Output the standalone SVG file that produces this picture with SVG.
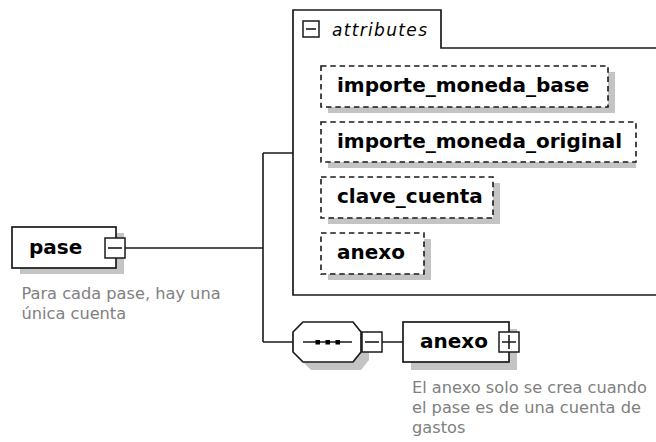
<svg xmlns="http://www.w3.org/2000/svg" width="656" height="442" viewBox="0 0 656 442">
<style>
.box{fill:#fff;stroke:#1a1a1a;stroke-width:1.7}
.dash{fill:#fff;stroke:#1a1a1a;stroke-width:1.6;stroke-dasharray:5.5 3.8}
.sh{fill:#c4c4c4;stroke:none}
.ln{fill:none;stroke:#1a1a1a;stroke-width:1.6}
.btn{fill:#fff;stroke:#1a1a1a;stroke-width:1.5}
.nm{font-family:"DejaVu Sans",Verdana,sans-serif;font-weight:bold;font-size:20px;fill:#000}
.ds{font-family:"DejaVu Sans",Verdana,sans-serif;font-size:16.2px;fill:#808080}
.it{font-family:"DejaVu Sans",Verdana,sans-serif;font-style:italic;font-size:17px;fill:#000}
</style>
<rect width="656" height="442" fill="#fff"/>
<g id="connectors">
<path class="ln" d="M125,248 H263 M263,153 V342 M263,153 H293 M263,342 H293 M382,342 H403"/>
</g>
<g id="attributes">
<path d="M656,48 H441 V10 H293 V295 H656" fill="#fff" stroke="#1a1a1a" stroke-width="1.7"/>
<rect class="btn" x="303" y="21" width="16" height="16"/>
<path class="ln" d="M306,29 H316"/>
<text class="it" x="332" y="36" textLength="95" lengthAdjust="spacing">attributes</text>
</g>
<g id="attr-importe_moneda_base">
<rect class="sh" x="328" y="72" width="287" height="41"/>
<rect class="dash" x="321" y="66" width="287" height="41"/>
<text class="nm" x="337" y="92">importe_moneda_base</text>
</g>
<g id="attr-importe_moneda_original">
<rect class="sh" x="328" y="128" width="308" height="40"/>
<rect class="dash" x="321" y="122" width="315" height="40"/>
<text class="nm" x="337" y="148">importe_moneda_original</text>
</g>
<g id="attr-clave_cuenta">
<rect class="sh" x="328" y="183" width="172" height="41"/>
<rect class="dash" x="321" y="177" width="172" height="41"/>
<text class="nm" x="337" y="203">clave_cuenta</text>
</g>
<g id="attr-anexo">
<rect class="sh" x="328" y="239" width="103" height="41"/>
<rect class="dash" x="321" y="233" width="103" height="41"/>
<text class="nm" x="337" y="259">anexo</text>
</g>
<g id="pase">
<rect class="sh" x="20" y="233" width="104" height="41"/>
<rect class="box" x="12" y="227" width="104" height="41"/>
<text class="nm" x="29" y="254">pase</text>
<rect class="btn" x="105" y="238" width="20" height="20"/>
<path class="ln" d="M108,248 H122"/>
<text class="ds" x="21.5" y="299">Para cada pase, hay una</text>
<text class="ds" x="21.5" y="319">única cuenta</text>
</g>
<g id="sequence">
<polygon class="sh" points="311,330 361,330 369,340 369,360 361,370 311,370 301,360 301,340"/>
<polygon class="box" points="303,322 353,322 361,332 361,352 353,362 303,362 293,352 293,332"/>
<path class="ln" d="M303,342 H352"/>
<rect x="315.5" y="340" width="4.5" height="4.5" fill="#000"/>
<rect x="325.5" y="340" width="4.5" height="4.5" fill="#000"/>
<rect x="335.5" y="340" width="4.5" height="4.5" fill="#000"/>
<rect class="btn" x="362" y="332" width="20" height="20"/>
<path class="ln" d="M365,342 H379"/>
</g>
<g id="anexo">
<rect class="sh" x="411" y="329" width="106" height="41"/>
<rect class="box" x="403" y="322" width="106" height="40"/>
<text class="nm" x="420" y="348">anexo</text>
<rect class="btn" x="499" y="332" width="20" height="20"/>
<path class="ln" d="M502,342 H516 M509,335 V349"/>
<text class="ds" x="412" y="393">El anexo solo se crea cuando</text>
<text class="ds" x="412" y="413">el pase es de una cuenta de</text>
<text class="ds" x="412" y="433">gastos</text>
</g>
</svg>
